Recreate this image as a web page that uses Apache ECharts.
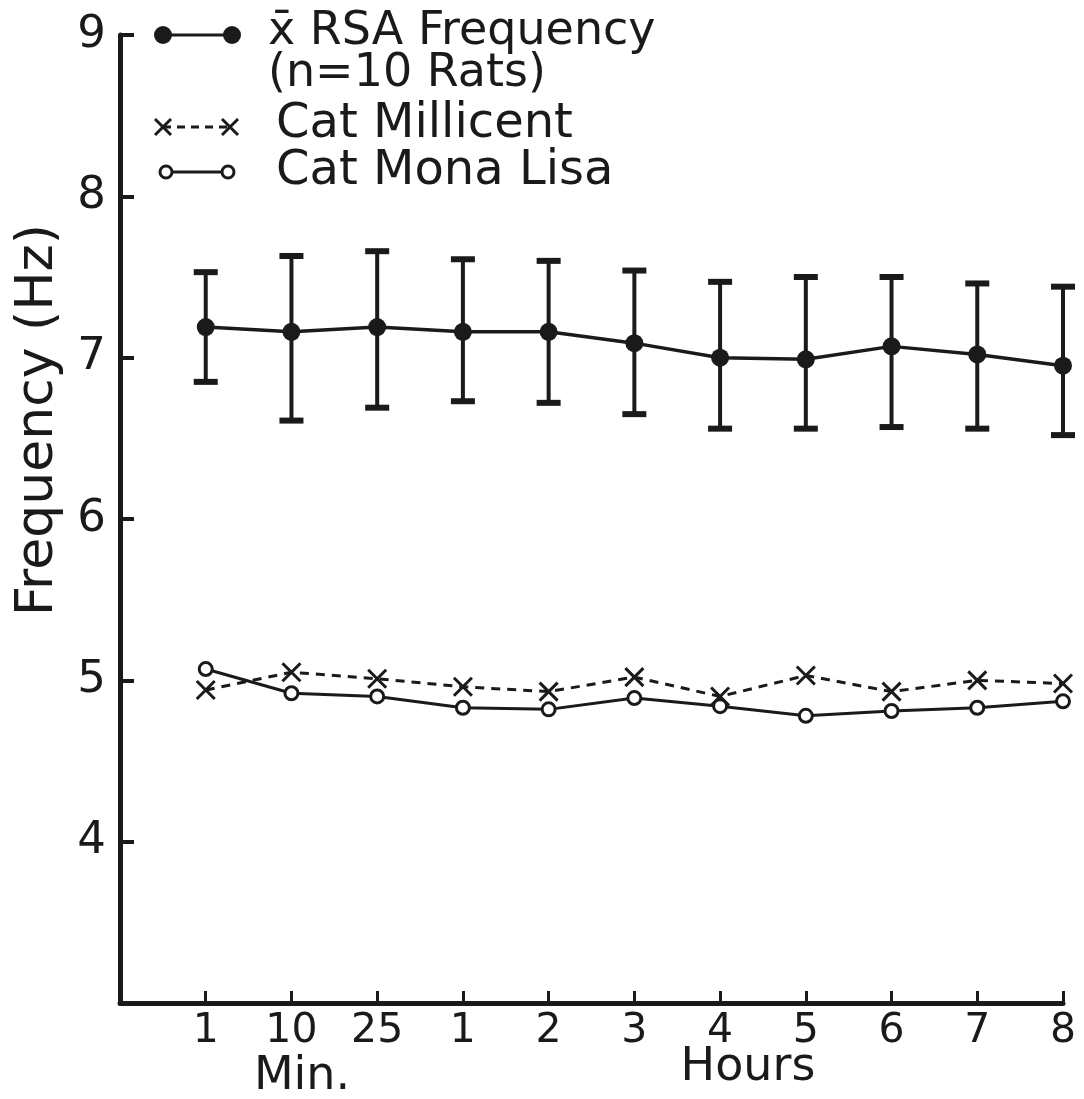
<!DOCTYPE html>
<html lang="en" style="height:100%">
<head>
    <meta charset="UTF-8">
    <title>RSA Frequency</title>
</head>
<body style="height: 100%; margin: 0; background: #fff">
<div id="container" style="width:1084px; height:1099px"></div>
<script type="text/javascript" src="https://cdn.jsdelivr.net/npm/echarts@6/dist/echarts.min.js"></script>
<script type="text/javascript">

    // x positions 1..11 on the axis, with their printed labels
    var tickLabels = ['1', '10', '25', '1', '2', '3', '4', '5', '6', '7', '8'];
    var xPos = [1, 2, 3, 4, 5, 6, 7, 8, 9, 10, 11];

    // mean RSA frequency (n=10 rats) with error bar ends
    var rsaMean  = [7.19, 7.16, 7.19, 7.16, 7.16, 7.09, 7.00, 6.99, 7.07, 7.02, 6.95];
    var rsaUpper = [7.53, 7.63, 7.66, 7.61, 7.60, 7.54, 7.47, 7.50, 7.50, 7.46, 7.44];
    var rsaLower = [6.85, 6.61, 6.69, 6.73, 6.72, 6.65, 6.56, 6.56, 6.57, 6.56, 6.52];

    // the two cats
    var millicent = [4.94, 5.05, 5.01, 4.96, 4.93, 5.02, 4.90, 5.03, 4.93, 5.00, 4.98];
    var monaLisa  = [5.07, 4.92, 4.90, 4.83, 4.82, 4.89, 4.84, 4.78, 4.81, 4.83, 4.87];

    var FONT = 'DejaVu Sans';
    var INK = '#1a1a1a';

    var pairs = function (vals) {
        var res = [];
        for (var i = 0; i < vals.length; i++) {
            res.push([xPos[i], vals[i]]);
        }
        return res;
    };

    var errData = [];
    for (var i = 0; i < xPos.length; i++) {
        errData.push([xPos[i], rsaLower[i], rsaUpper[i]]);
    }

    // small helpers for the hand-drawn legend
    var seg = function (x1, y1, x2, y2, dash) {
        var st = { stroke: INK, lineWidth: 3 };
        if (dash) st.lineDash = dash;
        return { type: 'line', shape: { x1: x1, y1: y1, x2: x2, y2: y2 }, style: st };
    };
    var txt = function (x, y, s, size, align) {
        return {
            type: 'text', x: x, y: y,
            style: { text: s, fontFamily: FONT, fontSize: size, fill: INK, align: align || 'left', verticalAlign: 'middle' }
        };
    };

    var myChart = echarts.init(document.getElementById('container'));

    var option = {
        backgroundColor: '#ffffff',
        animation: false,
        grid: { left: 120, right: 21, top: 35, bottom: 96 },
        xAxis: {
            type: 'value',
            min: 0,
            max: 11,
            interval: 1,
            splitLine: { show: false },
            axisLine: { lineStyle: { color: INK, width: 5 } },
            axisTick: { inside: true, length: 12, lineStyle: { color: INK, width: 3 } },
            axisLabel: {
                margin: 8,
                color: INK,
                fontFamily: FONT,
                fontSize: 41,
                formatter: function (v) { return v >= 1 ? tickLabels[v - 1] : ''; }
            }
        },
        yAxis: {
            type: 'value',
            min: 3,
            max: 9,
            interval: 1,
            splitLine: { show: false },
            axisLine: { show: true, lineStyle: { color: INK, width: 5 } },
            axisTick: { inside: true, length: 14, lineStyle: { color: INK, width: 4 } },
            axisLabel: {
                margin: 14,
                color: INK,
                fontFamily: FONT,
                fontSize: 45,
                formatter: function (v) { return v > 3 ? String(v) : ''; }
            }
        },
        graphic: [
            // legend: RSA
            seg(163, 35, 232, 35),
            { type: 'circle', shape: { cx: 163, cy: 35, r: 9 }, style: { fill: INK } },
            { type: 'circle', shape: { cx: 232, cy: 35, r: 9 }, style: { fill: INK } },
            txt(268, 32, 'x\u0304 RSA Frequency', 46),
            txt(268, 74, '(n=10 Rats)', 46),
            // legend: Millicent
            seg(163, 127, 230, 127, [8, 6]),
            seg(155, 119, 171, 135), seg(171, 119, 155, 135),
            seg(222, 119, 238, 135), seg(238, 119, 222, 135),
            txt(276, 125, 'Cat Millicent', 48),
            // legend: Mona Lisa
            seg(166, 172, 228, 172),
            { type: 'circle', shape: { cx: 166, cy: 172, r: 6 }, style: { fill: '#fff', stroke: INK, lineWidth: 3 } },
            { type: 'circle', shape: { cx: 228, cy: 172, r: 6 }, style: { fill: '#fff', stroke: INK, lineWidth: 3 } },
            txt(276, 172, 'Cat Mona Lisa', 48),
            // y axis title, rotated
            {
                type: 'text', x: 38, y: 420, rotation: Math.PI / 2,
                style: { text: 'Frequency (Hz)', fontFamily: FONT, fontSize: 52, fill: INK, align: 'center', verticalAlign: 'middle' }
            },
            // axis group captions
            txt(302, 1077, 'Min.', 46, 'center'),
            txt(748, 1068, 'Hours', 46, 'center')
        ],
        series: [
            {
                name: 'RSA error',
                type: 'custom',
                data: errData,
                renderItem: function (params, api) {
                    var lo = api.coord([api.value(0), api.value(1)]);
                    var hi = api.coord([api.value(0), api.value(2)]);
                    var w = 12;
                    return {
                        type: 'group',
                        children: [
                            { type: 'line', shape: { x1: lo[0], y1: lo[1], x2: hi[0], y2: hi[1] }, style: { stroke: INK, lineWidth: 4 } },
                            { type: 'line', shape: { x1: hi[0] - w, y1: hi[1], x2: hi[0] + w, y2: hi[1] }, style: { stroke: INK, lineWidth: 6 } },
                            { type: 'line', shape: { x1: lo[0] - w, y1: lo[1], x2: lo[0] + w, y2: lo[1] }, style: { stroke: INK, lineWidth: 6 } }
                        ]
                    };
                },
                z: 2
            },
            {
                name: 'RSA Frequency',
                type: 'line',
                data: pairs(rsaMean),
                symbol: 'circle',
                symbolSize: 18,
                itemStyle: { color: INK },
                lineStyle: { color: INK, width: 3.5 },
                z: 3
            },
            {
                name: 'Cat Millicent',
                type: 'line',
                data: pairs(millicent),
                symbol: 'path://M0,0L10,10M10,0L0,10',
                symbolSize: 18,
                itemStyle: { color: 'none', borderColor: INK, borderWidth: 3 },
                lineStyle: { color: INK, width: 3, type: [9, 7] },
                z: 3
            },
            {
                name: 'Cat Mona Lisa',
                type: 'line',
                data: pairs(monaLisa),
                symbol: 'circle',
                symbolSize: 13,
                itemStyle: { color: '#ffffff', borderColor: INK, borderWidth: 3 },
                lineStyle: { color: INK, width: 3 },
                z: 4
            }
        ]
    };

    myChart.setOption(option);
</script>
</body>
</html>
